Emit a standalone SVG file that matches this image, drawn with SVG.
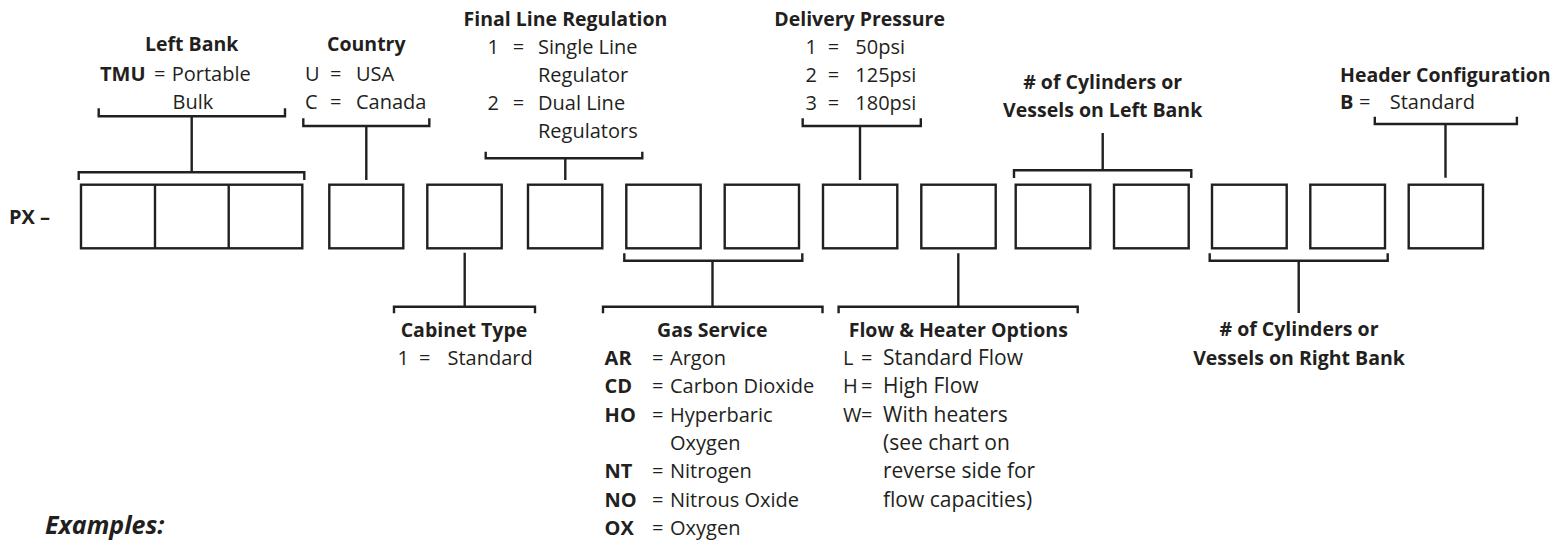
<svg xmlns="http://www.w3.org/2000/svg" width="1557" height="544" viewBox="0 0 1557 544">
<style>
.bx{fill:none;stroke:#231f20;stroke-width:2.4}
.cn{fill:none;stroke:#231f20;stroke-width:2.4}
text{font-family:"Open Sans","Liberation Sans",sans-serif;fill:#231f20;font-size:20px}
.t{font-weight:bold;font-size:19.5px}
.b{font-weight:bold}
.m{text-anchor:middle}
.ex{font-weight:bold;font-style:italic;font-size:25px}
.fv{font-size:21px}
</style>
<rect width="1557" height="544" fill="#fff"/>
<g id="connectors" class="cn">
<path d="M98.7,108.3V116.3H285V108.3M191.7,116.3V172.3M78.7,180V172.3H304.3V180"/>
<path d="M303.3,118.3V126H429.3V118.3M366.3,126V180"/>
<path d="M485.7,151.7V158.3H642.3V151.7M565.3,158.3V180"/>
<path d="M802.7,118.3V126H920.8V118.3M860,126V180"/>
<path d="M1102.7,133V170.3M1014,178V170.3H1191.3V178"/>
<path d="M1374.8,116.7V124H1516.9V116.7M1445.5,124V177.7"/>
<path d="M464.7,252.7V306.7M394,313.3V306.7H535V313.3"/>
<path d="M624.3,253.3V260.7H802.3V253.3M712.5,260.7V306.7M603,313.3V306.7H822.5V313.3"/>
<path d="M958.3,253.3V306.7M838.6,313.3V306.7H1077.7V313.3"/>
<path d="M1209.7,253.3V260.7H1387.7V253.3M1298.7,260.7V313"/>
</g>
<g id="prefix"><text class="b" x="9" y="224" font-size="18">PX –</text></g>
<g id="box-left-bank"><rect class="bx" x="81" y="184.7" width="221.3" height="63.6"/><path class="bx" d="M155,184.7V248.3M228.7,184.7V248.3"/></g>
<g id="box-country"><rect class="bx" x="329.3" y="184.7" width="74" height="63.6"/></g>
<g id="box-cabinet"><rect class="bx" x="427.3" y="184.7" width="74.4" height="63.6"/></g>
<g id="box-regulation"><rect class="bx" x="528" y="184.7" width="74.3" height="63.6"/></g>
<g id="box-gas-1"><rect class="bx" x="626.3" y="184.7" width="74.4" height="63.6"/></g>
<g id="box-gas-2"><rect class="bx" x="724.7" y="184.7" width="74.3" height="63.6"/></g>
<g id="box-pressure"><rect class="bx" x="823" y="184.7" width="74.3" height="63.6"/></g>
<g id="box-flow"><rect class="bx" x="921.3" y="184.7" width="74.4" height="63.6"/></g>
<g id="box-cyl-left-1"><rect class="bx" x="1015.7" y="184.7" width="74.6" height="63.6"/></g>
<g id="box-cyl-left-2"><rect class="bx" x="1114" y="184.7" width="74.7" height="63.6"/></g>
<g id="box-cyl-right-1"><rect class="bx" x="1212" y="184.7" width="74.7" height="63.6"/></g>
<g id="box-cyl-right-2"><rect class="bx" x="1310.3" y="184.7" width="74.7" height="63.6"/></g>
<g id="box-header"><rect class="bx" x="1408.7" y="184.7" width="74.3" height="63.6"/></g>

<g id="label-left-bank">
<text class="t m" x="191.7" y="50.7">Left Bank</text>
<text x="100" y="81"><tspan class="b">TMU</tspan><tspan x="154">=</tspan><tspan x="171.7">Portable</tspan></text>
<text x="172.5" y="108.5">Bulk</text>
</g>
<g id="label-country">
<text class="t m" x="366.3" y="50.7">Country</text>
<text x="305" y="81">U<tspan x="330">=</tspan><tspan x="356">USA</tspan></text>
<text x="305" y="109">C<tspan x="330">=</tspan><tspan x="356">Canada</tspan></text>
</g>
<g id="label-regulation">
<text class="t m" x="565.5" y="26">Final Line Regulation</text>
<text x="487.6" y="54">1<tspan x="512.7">=</tspan><tspan x="538">Single Line</tspan></text>
<text x="538" y="81.5">Regulator</text>
<text x="487.6" y="109.5">2<tspan x="512.7">=</tspan><tspan x="538">Dual Line</tspan></text>
<text x="538" y="137.5">Regulators</text>
</g>
<g id="label-pressure">
<text class="t m" x="859.6" y="26">Delivery Pressure</text>
<text x="805.4" y="54">1<tspan x="827.8">=</tspan><tspan x="855.3">50psi</tspan></text>
<text x="805.4" y="81.5">2<tspan x="827.8">=</tspan><tspan x="855.3">125psi</tspan></text>
<text x="805.4" y="109.5">3<tspan x="827.8">=</tspan><tspan x="855.3">180psi</tspan></text>
</g>
<g id="label-cyl-left">
<text class="t m" x="1102.7" y="89.3"># of Cylinders or</text>
<text class="t m" x="1102.7" y="116.7">Vessels on Left Bank</text>
</g>
<g id="label-header">
<text class="t" x="1340" y="81.5">Header Configuration</text>
<text x="1340" y="109"><tspan class="b">B</tspan><tspan x="1359">=</tspan><tspan x="1389.7">Standard</tspan></text>
</g>
<g id="label-cabinet">
<text class="t m" x="464" y="336.7">Cabinet Type</text>
<text x="397.5" y="365">1<tspan x="419">=</tspan><tspan x="447.5">Standard</tspan></text>
</g>
<g id="label-gas">
<text class="t m" x="712.3" y="336.7">Gas Service</text>
<text x="604.6" y="365"><tspan class="b">AR</tspan><tspan x="652">=</tspan><tspan x="670">Argon</tspan></text>
<text x="604.6" y="393.3"><tspan class="b">CD</tspan><tspan x="652">=</tspan><tspan x="670">Carbon Dioxide</tspan></text>
<text x="604.6" y="421.7"><tspan class="b">HO</tspan><tspan x="652">=</tspan><tspan x="670">Hyperbaric</tspan></text>
<text x="670" y="450">Oxygen</text>
<text x="604.6" y="478.3"><tspan class="b">NT</tspan><tspan x="652">=</tspan><tspan x="670">Nitrogen</tspan></text>
<text x="604.6" y="506.7"><tspan class="b">NO</tspan><tspan x="652">=</tspan><tspan x="670">Nitrous Oxide</tspan></text>
<text x="604.6" y="535"><tspan class="b">OX</tspan><tspan x="652">=</tspan><tspan x="670">Oxygen</tspan></text>
</g>
<g id="label-flow">
<text class="t m" x="958.3" y="336.7">Flow &amp; Heater Options</text>
<text x="843" y="365">L<tspan x="861">=</tspan><tspan class="fv" x="883">Standard Flow</tspan></text>
<text x="843" y="393.3">H<tspan x="861">=</tspan><tspan class="fv" x="883">High Flow</tspan></text>
<text x="843" y="421.7">W<tspan x="861">=</tspan><tspan class="fv" x="883">With heaters</tspan></text>
<text class="fv" x="883" y="450">(see chart on</text>
<text class="fv" x="883" y="478.3">reverse side for</text>
<text class="fv" x="883" y="506.7">flow capacities)</text>
</g>
<g id="label-cyl-right">
<text class="t m" x="1299" y="336"># of Cylinders or</text>
<text class="t m" x="1299" y="365">Vessels on Right Bank</text>
</g>
<g id="examples"><text class="ex" x="45" y="533.5">Examples:</text></g>
</svg>
